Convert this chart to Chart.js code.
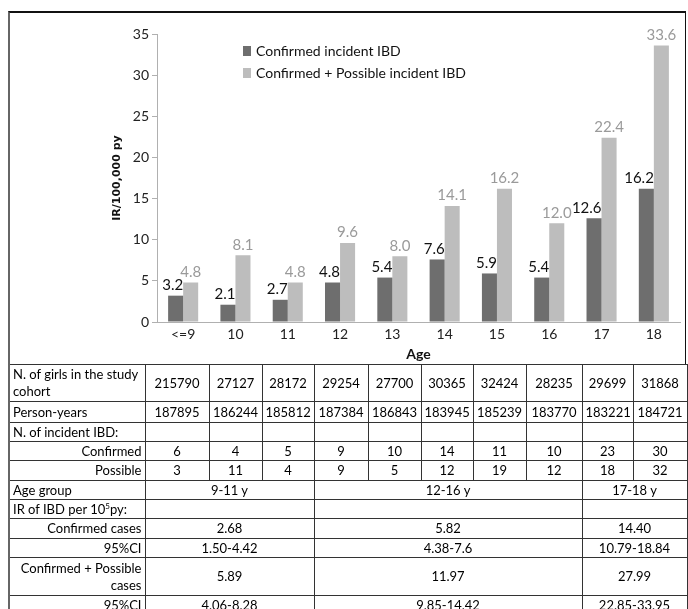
<!DOCTYPE html>
<html>
<head>
<meta charset="utf-8">
<script src="https://cdn.jsdelivr.net/npm/chart.js@4"></script>
<style>
  html, body { margin: 0; padding: 0; background: #fff; overflow: hidden; }
  body { width: 688px; height: 609px; position: relative; font-family: Lato, "Liberation Sans", Arial, sans-serif; }
  .frame { position: absolute; left: 8px; top: 11px; width: 678px; height: 354px; box-sizing: border-box;
           border-top: 2px solid #111; border-left: 2px solid #666; border-right: 1px solid #111; }
  .chart-wrap { position: absolute; left: 0; top: 0; width: 675px; height: 352px; }
  table { position: absolute; left: 8px; top: 364px; width: 678px; border-collapse: collapse; table-layout: fixed; font-size: 13px; color: #000; }
  td { border: 1px solid #333; padding: 0 3px; text-align: center; line-height: 17px; overflow: hidden; white-space: nowrap; }
  td.h { text-align: left; white-space: normal; border-left: 2px solid #666; }
  td.r { text-align: right; white-space: normal; border-left: 2px solid #666; }
  sup { font-size: 8px; line-height: 0; }
</style>
</head>
<body>
<div class="frame">
  <div class="chart-wrap"><canvas id="myChart"></canvas></div>
</div>
<table id="tbl"></table>
<script>
// Chart data
const ages = ['<=9', '10', '11', '12', '13', '14', '15', '16', '17', '18'];
const confirmedIR = [3.2, 2.1, 2.7, 4.8, 5.4, 7.6, 5.9, 5.4, 12.6, 16.2];
const combinedIR = [4.8, 8.1, 4.8, 9.6, 8.0, 14.1, 16.2, 12.0, 22.4, 33.6];
const yTicks = [0, 5, 10, 15, 20, 25, 30, 35];

// Table data
const girls = [215790, 27127, 28172, 29254, 27700, 30365, 32424, 28235, 29699, 31868];
const personYears = [187895, 186244, 185812, 187384, 186843, 183945, 185239, 183770, 183221, 184721];
const confirmedN = [6, 4, 5, 9, 10, 14, 11, 10, 23, 30];
const possibleN = [3, 11, 4, 9, 5, 12, 19, 12, 18, 32];
const ageGroups = ['9-11 y', '12-16 y', '17-18 y'];
const groupSpans = [3, 5, 2];
const groupConfirmed = ['2.68', '5.82', '14.40'];
const groupConfirmedCI = ['1.50-4.42', '4.38-7.6', '10.79-18.84'];
const groupCombined = ['5.89', '11.97', '27.99'];
const groupCombinedCI = ['4.06-8.28', '9.85-14.42', '22.85-33.95'];

const darkColor = '#6e6e6e';
const lightColor = '#bdbdbd';
const labelFont = 'Lato, "Liberation Sans", sans-serif';

// Build table
const colWidths = [136, 64, 53, 52, 54, 53, 52, 53, 56, 51, 54];
const tbl = document.getElementById('tbl');
let html = '<colgroup>' + colWidths.map(w => '<col style="width:' + w + 'px">').join('') + '</colgroup>';
const row = (h, label, cells, cls) =>
  '<tr style="height:' + h + 'px"><td class="' + cls + '">' + label + '</td>' + cells + '</tr>';
const eachCol = arr => arr.map(v => '<td>' + v + '</td>').join('');
const eachGroup = arr => arr.map((v, i) => '<td colspan="' + groupSpans[i] + '">' + v + '</td>').join('');
html += row(37, 'N. of girls in the study cohort', eachCol(girls), 'h');
html += row(21, 'Person-years', eachCol(personYears), 'h');
html += row(19, 'N. of incident IBD:', eachCol(ages.map(() => '')), 'h');
html += row(19, 'Confirmed', eachCol(confirmedN), 'r');
html += row(20, 'Possible', eachCol(possibleN), 'r');
html += row(19, 'Age group', eachGroup(ageGroups), 'h');
html += row(19, 'IR of IBD per 10<sup>5</sup>py:', eachGroup(ageGroups.map(() => '')), 'h');
html += row(20, 'Confirmed cases', eachGroup(groupConfirmed), 'r');
html += row(19, '95%CI', eachGroup(groupConfirmedCI), 'r');
html += row(38, 'Confirmed + Possible cases', eachGroup(groupCombined), 'r');
html += row(19, '95%CI', eachGroup(groupCombinedCI), 'r');
tbl.innerHTML = html;

// Value labels above bars
const barLabels = {
  id: 'barLabels',
  afterDatasetsDraw(chart) {
    const c = chart.ctx;
    c.save();
    c.font = '15px ' + labelFont;
    c.textBaseline = 'bottom';
    chart.data.datasets.forEach((ds, i) => {
      chart.getDatasetMeta(i).data.forEach((bar, j) => {
        const txt = ds.data[j].toFixed(1);
        if (i === 0) {
          c.fillStyle = '#111';
          c.textAlign = 'right';
          c.fillText(txt, bar.x + bar.width / 2, bar.y - 3);
        } else {
          c.fillStyle = '#9a9a9a';
          c.textAlign = 'center';
          c.fillText(txt, bar.x, bar.y - 3);
        }
      });
    });
    c.restore();
  }
};

// Legend inside the plot
const insideLegend = {
  id: 'insideLegend',
  afterDraw(chart) {
    const c = chart.ctx;
    const x = chart.chartArea.left + 86;
    const y = chart.chartArea.top + 17;
    c.save();
    c.font = '14px ' + labelFont;
    c.textBaseline = 'middle';
    c.textAlign = 'left';
    chart.data.datasets.forEach((ds, i) => {
      const yy = y + i * 22;
      c.fillStyle = ds.backgroundColor;
      c.fillRect(x, yy - 5, 8, 10);
      c.fillStyle = '#111';
      c.fillText(ds.label, x + 13, yy);
    });
    c.restore();
  }
};

const ctx = document.getElementById('myChart');
new Chart(ctx, {
  type: 'bar',
  data: {
    labels: ages,
    datasets: [{
      label: 'Confirmed incident IBD',
      data: confirmedIR,
      backgroundColor: darkColor,
      borderWidth: 0
    }, {
      label: 'Confirmed + Possible incident IBD',
      data: combinedIR,
      backgroundColor: lightColor,
      borderWidth: 0
    }]
  },
  options: {
    responsive: true,
    maintainAspectRatio: false,
    animation: false,
    devicePixelRatio: 1,
    layout: { padding: { left: 100, right: 5, top: 21, bottom: 0 } },
    datasets: { bar: { barPercentage: 1.0, categoryPercentage: 0.575 } },
    scales: {
      y: {
        min: 0,
        max: 35,
        afterFit: s => { s.width = 47; },
        afterBuildTicks: s => { s.ticks = yTicks.map(v => ({ value: v })); },
        grid: { drawOnChartArea: false, drawTicks: true, tickLength: 5, color: '#b0b0b0' },
        border: { display: true, color: '#b0b0b0', width: 1 },
        ticks: { color: '#222', padding: 3, font: { family: labelFont, size: 14 } },
        title: {
          display: true,
          text: 'IR/100,000 py',
          color: '#111',
          padding: { top: 1, bottom: 0 },
          font: { family: 'DejaVu Sans', size: 11, weight: 'bold' }
        }
      },
      x: {
        afterFit: s => { s.height = 43; },
        grid: { display: false, drawTicks: false },
        border: { display: true, color: '#b0b0b0', width: 1 },
        ticks: { color: '#222', padding: 4, font: { family: labelFont, size: 14 } },
        title: {
          display: true,
          text: 'Age',
          color: '#111',
          padding: { top: 0, bottom: 2 },
          font: { family: labelFont, size: 14, weight: 'bold' }
        }
      }
    },
    plugins: {
      legend: { display: false },
      tooltip: { enabled: false }
    }
  },
  plugins: [barLabels, insideLegend]
});
</script>
</body>
</html>
